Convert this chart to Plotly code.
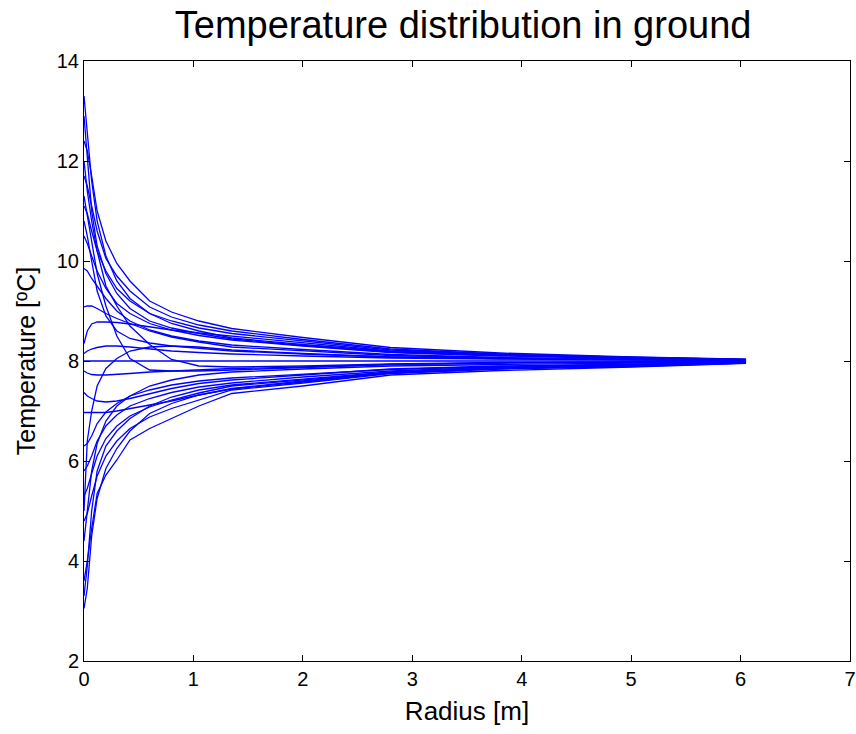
import plotly.graph_objects as go

# radial positions [m]
radius = [0, 0.03, 0.07, 0.12, 0.2, 0.3, 0.42, 0.6, 0.8, 1.05, 1.35, 2.0, 2.8, 3.8, 5.0, 6.05]

# temperature profiles [°C], one list per snapshot
h1 = [13.3, 12.6, 11.6, 10.8, 10.1, 9.6, 9.25, 8.95, 8.75, 8.6, 8.46, 8.33, 8.19, 8.12, 8.06, 8.025]
h2 = [12.4, 12.2, 11.7, 11.0, 10.4, 9.95, 9.6, 9.2, 8.98, 8.8, 8.65, 8.47, 8.27, 8.16, 8.08, 8.035]
h3 = [11.7, 11.5, 11.1, 10.6, 10.05, 9.7, 9.4, 9.08, 8.88, 8.72, 8.6, 8.43, 8.24, 8.14, 8.07, 8.03]
h4 = [11.1, 10.95, 10.6, 10.2, 9.8, 9.45, 9.2, 8.95, 8.8, 8.66, 8.55, 8.4, 8.22, 8.13, 8.07, 8.03]
h5 = [10.5, 10.35, 10.1, 9.8, 9.45, 9.15, 8.95, 8.75, 8.62, 8.51, 8.42, 8.3, 8.17, 8.1, 8.05, 8.02]
h6 = [9.85, 9.8, 9.65, 9.5, 9.25, 9.0, 8.8, 8.62, 8.5, 8.4, 8.32, 8.23, 8.13, 8.07, 8.04, 8.015]
h7 = [12.9, 12.0, 11.0, 10.3, 9.75, 9.35, 9.05, 8.8, 8.66, 8.55, 8.44, 8.31, 8.18, 8.11, 8.06, 8.025]
m1 = [9.08, 9.1, 9.1, 9.05, 8.95, 8.85, 8.75, 8.6, 8.48, 8.38, 8.28, 8.2, 8.11, 8.06, 8.03, 8.01]
m2 = [8.35, 8.6, 8.74, 8.78, 8.78, 8.77, 8.74, 8.68, 8.62, 8.56, 8.5, 8.36, 8.2, 8.12, 8.06, 8.025]
m3 = [11.3, 10.9, 10.4, 9.75, 9.1, 8.5, 8.05, 7.82, 7.8, 7.8, 7.82, 7.87, 7.93, 7.96, 7.98, 7.99]
m4 = [12.0, 11.4, 10.8, 10.2, 9.5, 9.1, 8.7, 8.33, 8.03, 7.9, 7.88, 7.9, 7.94, 7.97, 7.98, 7.99]
m5 = [5.0, 6.4, 7.0, 7.5, 7.85, 8.05, 8.2, 8.28, 8.3, 8.28, 8.22, 8.15, 8.08, 8.05, 8.03, 8.01]
m6 = [6.97, 6.97, 6.96, 6.96, 6.97, 7.0, 7.05, 7.12, 7.2, 7.32, 7.44, 7.58, 7.76, 7.85, 7.9, 7.96]
m7 = [7.8, 7.76, 7.73, 7.72, 7.72, 7.73, 7.75, 7.78, 7.8, 7.82, 7.85, 7.88, 7.93, 7.96, 7.98, 7.99]
m8 = [8.15, 8.2, 8.24, 8.27, 8.3, 8.3, 8.28, 8.24, 8.2, 8.17, 8.14, 8.1, 8.06, 8.04, 8.02, 8.01]
m9 = [7.37, 7.3, 7.25, 7.2, 7.18, 7.2, 7.25, 7.35, 7.45, 7.55, 7.62, 7.72, 7.84, 7.9, 7.94, 7.97]
m10 = [10.8, 10.5, 10.0, 9.4, 8.9, 8.6, 8.45, 8.36, 8.3, 8.25, 8.2, 8.14, 8.08, 8.05, 8.03, 8.01]
flat = [8.0] * 16
c1 = [3.05, 3.45, 4.5, 5.25, 5.85, 6.25, 6.6, 6.95, 7.15, 7.32, 7.45, 7.6, 7.76, 7.85, 7.91, 7.97]
c2 = [3.6, 4.0, 4.65, 5.35, 5.72, 6.02, 6.42, 6.65, 6.85, 7.1, 7.35, 7.5, 7.72, 7.81, 7.88, 7.955]
c3 = [4.8, 4.95, 5.3, 5.7, 6.1, 6.4, 6.65, 6.88, 7.05, 7.22, 7.42, 7.56, 7.75, 7.84, 7.89, 7.96]
c4 = [5.3, 5.45, 5.75, 6.1, 6.45, 6.7, 6.9, 7.08, 7.22, 7.36, 7.5, 7.62, 7.77, 7.86, 7.9, 7.97]
c5 = [5.8, 5.9, 6.1, 6.4, 6.7, 6.92, 7.1, 7.25, 7.37, 7.48, 7.56, 7.68, 7.8, 7.88, 7.92, 7.97]
c6 = [6.3, 6.35, 6.5, 6.75, 6.98, 7.15, 7.3, 7.42, 7.52, 7.6, 7.66, 7.74, 7.83, 7.89, 7.93, 7.97]
c7 = [4.4, 5.0, 5.8, 6.35, 6.8, 7.1, 7.3, 7.5, 7.62, 7.72, 7.78, 7.84, 7.9, 7.93, 7.96, 7.98]
c8 = [3.3, 3.9, 5.0, 5.8, 6.3, 6.6, 6.85, 7.1, 7.28, 7.42, 7.52, 7.64, 7.78, 7.86, 7.91, 7.97]

profiles = [h1, h2, h3, h4, h5, h6, h7, m1, m2, m3, m4, m5, m6, m7, m8, m9, m10, flat,
            c1, c2, c3, c4, c5, c6, c7, c8]

x_ticks = [0, 1, 2, 3, 4, 5, 6, 7]
y_ticks = [2, 4, 6, 8, 10, 12, 14]

fig = go.Figure()
for prof in profiles:
    fig.add_trace(go.Scatter(x=radius, y=prof, mode="lines",
                             line=dict(color="#0000FF", width=1.3),
                             showlegend=False, hoverinfo="skip"))

font_family = "Liberation Sans, Arial, sans-serif"
axis_common = dict(showline=True, linecolor="#000000", linewidth=1, mirror="ticks",
                   ticks="inside", ticklen=6, tickcolor="#000000", showgrid=False,
                   zeroline=False, automargin=False,
                   tickfont=dict(family=font_family, size=20, color="#000000"))

fig.update_layout(
    width=856, height=734,
    margin=dict(l=84, r=6, t=61, b=73),
    paper_bgcolor="white", plot_bgcolor="white",
    title=dict(text="Temperature distribution in ground", x=0.541, xanchor="center",
               xref="container", yref="container",
               y=1 - 25 / 734, yanchor="middle",
               font=dict(family=font_family, size=38, color="#000000")),
    xaxis=dict(range=[0, 7], tickvals=x_ticks,
               title=dict(text="Radius [m]", standoff=12,
                          font=dict(family=font_family, size=26, color="#000000")),
               **axis_common),
    yaxis=dict(range=[2, 14], tickvals=y_ticks,
               title=dict(text="Temperature [ºC]", standoff=14,
                          font=dict(family=font_family, size=25, color="#000000")),
               **axis_common),
)

fig.write_html("out.html", config={"displayModeBar": False},
               post_script="document.body.style.margin='0';document.body.style.padding='0';")
